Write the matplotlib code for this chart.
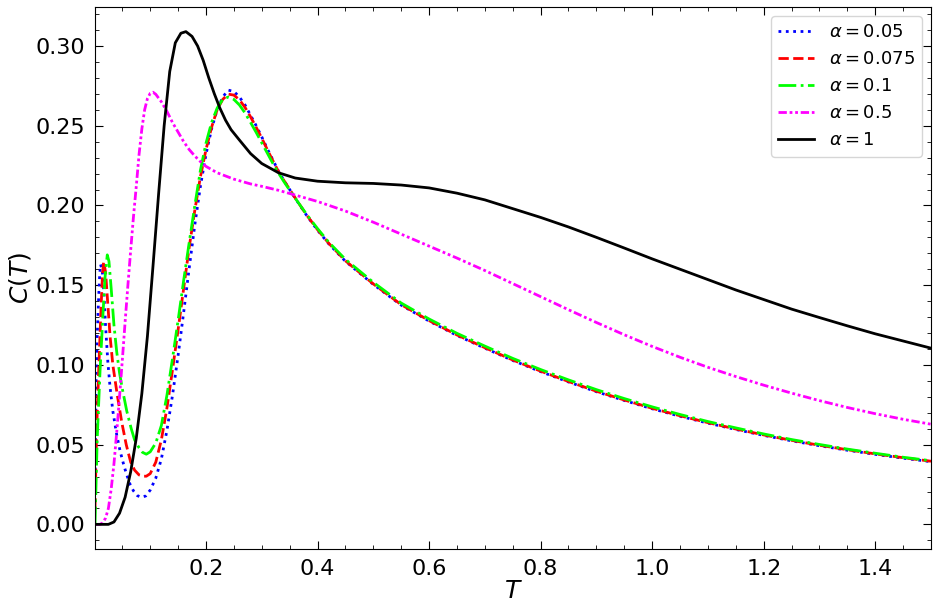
import matplotlib
matplotlib.use("Agg")
import matplotlib.pyplot as plt
from matplotlib.ticker import MultipleLocator

# ---- data ----
# alpha = 0.05
T_a005 = [0.001, 0.003, 0.005, 0.0075, 0.0095, 0.011, 0.014, 0.017, 0.020, 0.024, 0.028, 0.033, 0.040,
          0.046, 0.052, 0.057, 0.064, 0.070, 0.077, 0.084, 0.092, 0.10, 0.11, 0.12, 0.13, 0.14, 0.15, 0.16,
          0.17, 0.18, 0.19, 0.20, 0.21, 0.22, 0.23, 0.24, 0.25, 0.26, 0.27, 0.28, 0.29, 0.30, 0.31, 0.32,
          0.33, 0.34, 0.35, 0.36, 0.38, 0.40, 0.42, 0.45, 0.50, 0.55, 0.60, 0.65, 0.70, 0.75, 0.80, 0.85,
          0.90, 0.95, 1.00, 1.05, 1.10, 1.15, 1.20, 1.25, 1.30, 1.35, 1.40, 1.45, 1.50]
C_a005 = [0.02, 0.09, 0.118, 0.142, 0.157, 0.163, 0.159, 0.145, 0.124, 0.102, 0.086, 0.071, 0.056,
          0.046, 0.038, 0.032, 0.025, 0.021, 0.018, 0.017, 0.0178, 0.0215, 0.029, 0.041, 0.059, 0.081, 0.106,
          0.133, 0.161, 0.188, 0.212, 0.232, 0.248, 0.260, 0.268, 0.2723, 0.2715, 0.268, 0.263, 0.2565, 0.250,
          0.243, 0.2355, 0.2285, 0.2215, 0.2155, 0.210, 0.2045, 0.194, 0.1845, 0.176, 0.165, 0.1505, 0.1375,
          0.1275, 0.1185, 0.1105, 0.1028, 0.0958, 0.0893, 0.0832, 0.0777, 0.0725, 0.0678, 0.0635, 0.0595,
          0.0558, 0.0524, 0.0493, 0.0465, 0.0439, 0.0415, 0.0393]

# alpha = 0.075
T_a0075 = [0.001, 0.004, 0.008, 0.012, 0.0145, 0.0165, 0.020, 0.024, 0.028, 0.033, 0.041, 0.049, 0.057,
           0.065, 0.072, 0.080, 0.087, 0.093, 0.10, 0.11, 0.12, 0.13, 0.14, 0.15, 0.16, 0.17, 0.18, 0.19,
           0.20, 0.21, 0.22, 0.23, 0.24, 0.25, 0.26, 0.27, 0.28, 0.29, 0.30, 0.31, 0.32, 0.33, 0.34, 0.35,
           0.36, 0.38, 0.40, 0.42, 0.45, 0.50, 0.55, 0.60, 0.65, 0.70, 0.75, 0.80, 0.85, 0.90, 0.95, 1.00,
           1.05, 1.10, 1.15, 1.20, 1.25, 1.30, 1.35, 1.40, 1.45, 1.50]
C_a0075 = [0.01, 0.06, 0.10, 0.137, 0.157, 0.165, 0.158, 0.138, 0.118, 0.10, 0.081, 0.064, 0.050,
           0.039, 0.034, 0.031, 0.0302, 0.0302, 0.0318, 0.039, 0.053, 0.073, 0.097, 0.122, 0.148, 0.174,
           0.197, 0.218, 0.235, 0.249, 0.260, 0.2665, 0.2698, 0.2692, 0.2662, 0.2615, 0.2555, 0.249, 0.2422,
           0.235, 0.228, 0.2213, 0.2155, 0.2101, 0.2047, 0.1942, 0.1848, 0.1763, 0.1653, 0.1508, 0.1378,
           0.1278, 0.1188, 0.1108, 0.1031, 0.0961, 0.0896, 0.0835, 0.078, 0.0728, 0.0681, 0.0638, 0.0598,
           0.0561, 0.0527, 0.0496, 0.0468, 0.0442, 0.0418, 0.0396]

# alpha = 0.1
T_a01 = [0.001, 0.005, 0.010, 0.015, 0.019, 0.023, 0.026, 0.030, 0.035, 0.040, 0.045, 0.050, 0.058,
         0.066, 0.072, 0.080, 0.086, 0.093, 0.10, 0.11, 0.12, 0.13, 0.14, 0.15, 0.16, 0.17, 0.18, 0.19,
         0.20, 0.21, 0.22, 0.23, 0.24, 0.25, 0.26, 0.27, 0.28, 0.29, 0.30, 0.31, 0.32, 0.33, 0.34, 0.35,
         0.36, 0.38, 0.40, 0.42, 0.45, 0.50, 0.55, 0.60, 0.65, 0.70, 0.75, 0.80, 0.85, 0.90, 0.95, 1.00,
         1.05, 1.10, 1.15, 1.20, 1.25, 1.30, 1.35, 1.40, 1.45, 1.50]
C_a01 = [0.0, 0.054, 0.096, 0.13, 0.155, 0.169, 0.165, 0.148, 0.125, 0.108, 0.095, 0.085, 0.071,
         0.060, 0.053, 0.048, 0.0452, 0.044, 0.0455, 0.051, 0.062, 0.081, 0.104, 0.128, 0.153, 0.177,
         0.200, 0.222, 0.239, 0.252, 0.261, 0.2665, 0.268, 0.2665, 0.263, 0.258, 0.252, 0.2458, 0.2393,
         0.2328, 0.2263, 0.2203, 0.2148, 0.2096, 0.2045, 0.1946, 0.1855, 0.177, 0.1662, 0.1518, 0.1388,
         0.1288, 0.1198, 0.1118, 0.1041, 0.0971, 0.0906, 0.0845, 0.0789, 0.0737, 0.0689, 0.0645, 0.0605,
         0.0567, 0.0532, 0.0501, 0.0472, 0.0446, 0.0421, 0.0399]

# alpha = 0.5
T_a05 = [0.001, 0.010, 0.015, 0.020, 0.025, 0.030, 0.035, 0.040, 0.045, 0.050, 0.055, 0.060, 0.065,
         0.070, 0.075, 0.080, 0.085, 0.090, 0.095, 0.10, 0.105, 0.11, 0.12, 0.13, 0.14, 0.15, 0.16, 0.17,
         0.18, 0.19, 0.20, 0.22, 0.25, 0.28, 0.30, 0.33, 0.36, 0.40, 0.45, 0.50, 0.55, 0.60, 0.65, 0.70,
         0.75, 0.80, 0.85, 0.90, 0.95, 1.00, 1.05, 1.10, 1.15, 1.20, 1.25, 1.30, 1.35, 1.40, 1.45, 1.50]
C_a05 = [0.0, 0.0, 0.001, 0.004, 0.010, 0.022, 0.038, 0.058, 0.080, 0.103, 0.127, 0.150, 0.172,
         0.193, 0.212, 0.232, 0.248, 0.260, 0.267, 0.2703, 0.271, 0.2697, 0.265, 0.259, 0.252, 0.246,
         0.240, 0.235, 0.231, 0.2275, 0.2245, 0.2205, 0.2165, 0.2135, 0.212, 0.2095, 0.2065, 0.2025,
         0.1965, 0.1895, 0.182, 0.1745, 0.167, 0.1592, 0.151, 0.1428, 0.1346, 0.1266, 0.1189, 0.1116,
         0.1048, 0.0985, 0.0927, 0.0873, 0.0823, 0.0776, 0.0733, 0.0694, 0.0659, 0.0628]

# alpha = 1
T_a1 = [0.001, 0.025, 0.035, 0.045, 0.055, 0.065, 0.075, 0.085, 0.095, 0.105, 0.115, 0.125, 0.135,
        0.145, 0.155, 0.164, 0.175, 0.185, 0.195, 0.205, 0.215, 0.225, 0.235, 0.245, 0.26, 0.28, 0.30,
        0.33, 0.36, 0.40, 0.45, 0.50, 0.55, 0.60, 0.65, 0.70, 0.75, 0.80, 0.85, 0.90, 0.95, 1.00, 1.05,
        1.10, 1.15, 1.20, 1.25, 1.30, 1.35, 1.40, 1.45, 1.50]
C_a1 = [0.0, 0.0, 0.0015, 0.007, 0.017, 0.033, 0.054, 0.082, 0.118, 0.162, 0.207, 0.250, 0.284,
        0.302, 0.308, 0.309, 0.306, 0.300, 0.291, 0.280, 0.270, 0.261, 0.2535, 0.2475, 0.241, 0.2325,
        0.2263, 0.2205, 0.2172, 0.2152, 0.2142, 0.2138, 0.2128, 0.211, 0.2077, 0.2035, 0.198, 0.1925,
        0.1865, 0.180, 0.1733, 0.1665, 0.160, 0.1535, 0.147, 0.141, 0.135, 0.1297, 0.1245, 0.1195, 0.115,
        0.1105]

labels = [r"$\alpha = 0.05$", r"$\alpha = 0.075$", r"$\alpha = 0.1$", r"$\alpha = 0.5$", r"$\alpha = 1$"]

fig = plt.figure(figsize=(9.38, 6.13), dpi=100)
ax = fig.add_axes([95 / 938, 1 - 549 / 613, (931 - 95) / 938, (549 - 7) / 613])

lw = 2.0
ax.plot(T_a005, C_a005, color="blue", ls=":", lw=lw, label=labels[0])
ax.plot(T_a0075, C_a0075, color="red", ls="--", lw=lw, label=labels[1])
ax.plot(T_a01, C_a01, color="lime", ls="-.", lw=lw, label=labels[2])
ax.plot(T_a05, C_a05, color="magenta", ls=(0, (3, 1, 1, 1, 1, 1)), lw=lw, label=labels[3])
ax.plot(T_a1, C_a1, color="black", ls="-", lw=lw, label=labels[4])

ax.set_xlim(0.001, 1.5)
ax.margins(y=0.05)

ax.xaxis.set_major_locator(MultipleLocator(0.2))
ax.xaxis.set_minor_locator(MultipleLocator(0.05))
ax.yaxis.set_major_locator(MultipleLocator(0.05))
ax.yaxis.set_minor_locator(MultipleLocator(0.01))
ax.tick_params(which="both", direction="in", top=True, right=True)
ax.tick_params(which="major", length=6, labelsize=16, pad=7)
ax.tick_params(which="minor", length=3)

ax.set_xlabel(r"$T$", fontsize=18, labelpad=0)
ax.set_ylabel(r"$C(T)$", fontsize=18, labelpad=2)

ax.legend(loc="upper right", fontsize=13)

fig.savefig("out.png", dpi=100)
